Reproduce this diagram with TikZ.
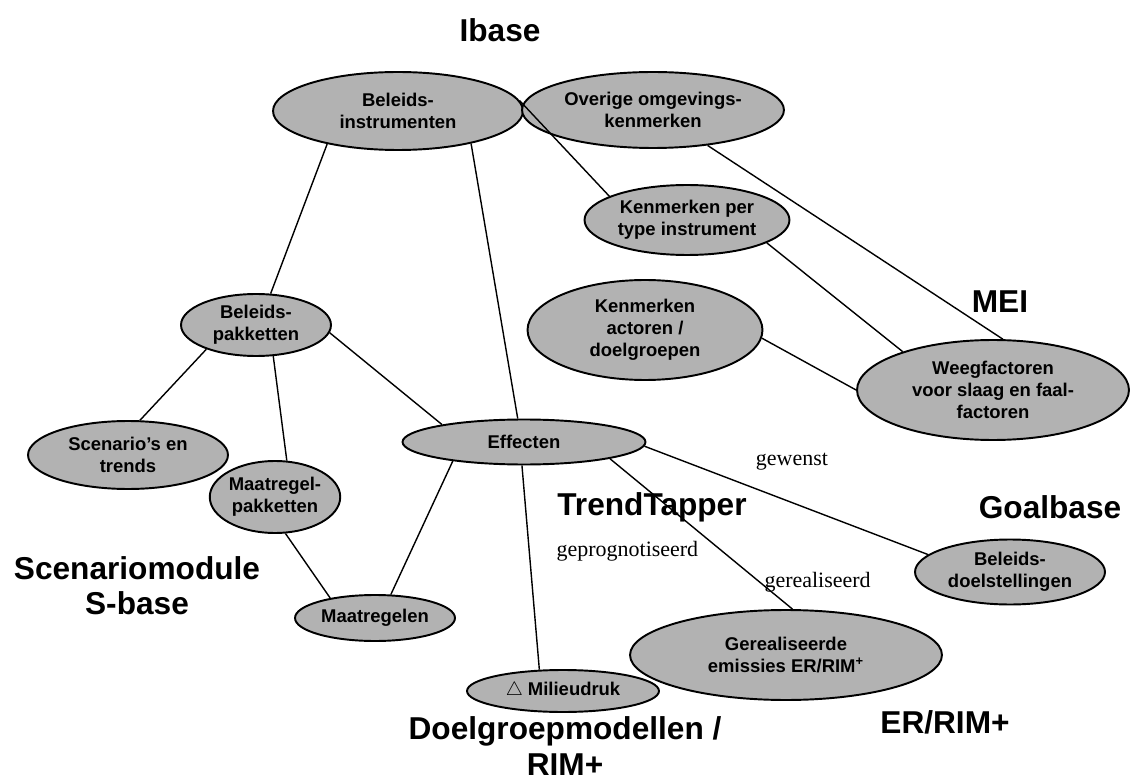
\documentclass[tikz,border=0pt]{standalone}
\usepackage{fontspec}
\setmainfont{Liberation Serif}
\setsansfont{Liberation Sans}
\usetikzlibrary{shapes.geometric}

\begin{document}
\begin{tikzpicture}[x=0.02cm, y=-0.02cm, line width=0.8pt,
        oval/.style={draw, ellipse, fill=black!30, line width=1.1pt, inner sep=0pt, align=center,
            font=\sffamily\bfseries\fontsize{10.5}{12.5}\selectfont},
        title/.style={align=center, font=\sffamily\bfseries\fontsize{18}{20}\selectfont},
        lbl/.style={font=\fontsize{12.5}{14}\selectfont, inner sep=1pt}]
    \useasboundingbox (0,0) rectangle (1139,780);

    % ovals
    \node[oval, minimum width=5cm, minimum height=1.56cm] (instr) at (398,111) {Beleids-\\instrumenten};
    \node[oval, minimum width=5.24cm, minimum height=1.52cm] (overig) at (653,110) {Overige omgevings-\\kenmerken};
    \node[oval, minimum width=4.1cm, minimum height=1.4cm] (kpt) at (687,220) {Kenmerken per\\type instrument};
    \node[oval, minimum width=4.7cm, minimum height=2cm] (kact) at (645,330) {Kenmerken\\actoren /\\doelgroepen};
    \node[oval, minimum width=5.44cm, minimum height=2cm] (weeg) at (993,390) {Weegfactoren\\voor slaag en faal-\\factoren};
    \node[oval, minimum width=3cm, minimum height=1.24cm] (pak) at (256,325) {Beleids-\\pakketten};
    \node[oval, minimum width=4cm, minimum height=1.36cm] (scen) at (128,455) {Scenario's en\\trends};
    \node[oval, minimum width=2.6cm, minimum height=1.44cm] (mpak) at (275,497) {Maatregel-\\pakketten};
    \node[oval, minimum width=4.86cm, minimum height=0.9cm] (eff) at (524,442) {Effecten};
    \node[oval, minimum width=3.2cm, minimum height=0.92cm] (maat) at (375,618) {Maatregelen};
    \node[oval, minimum width=3.8cm, minimum height=1.3cm] (doel) at (1010,572) {Beleids-\\doelstellingen};
    \node[oval, minimum width=6.24cm, minimum height=1.8cm] (emis) at (786,655) {Gerealiseerde\\emissies ER/RIM\textsuperscript{+}};
    \node[oval, minimum width=3.84cm, minimum height=0.84cm] (milieu) at (563,691) {$\triangle$ Milieudruk};

    % module names
    \node[title] (ibase) at (500,30) {Ibase};
    \node[title] (mei) at (1000,302) {MEI};
    \node[title] (tt) at (652,507) {TrendTapper};
    \node[title] (goal) at (1050,507) {Goalbase};
    \node[title] (sbase) at (137,586) {Scenariomodule\\S-base};
    \node[title] (rim) at (565,746) {Doelgroepmodellen /\\RIM+};
    \node[title] (er) at (945,722) {ER/RIM+};

    % links
    \draw (instr.-155) -- (pak.65);
    \draw (instr.-24) -- (eff.105);
    \draw (instr.5) -- (kpt.163);
    \draw (overig.-33) -- (weeg.79);
    \draw (kpt.-16) -- (weeg.157);
    \draw (kact.-4) -- (weeg.180);
    \draw (pak.-154) -- (scen.71);
    \draw (pak.-61) -- (mpak.72);
    \draw (pak.-6) -- (eff.168);
    \draw (mpak.-74) -- (maat.156);
    \draw (eff.-165) -- (maat.56);
    \draw (eff.-95) -- node[lbl, pos=0.42, right=0.5cm] (prog) {geprognotiseerd} (milieu.138);
    \draw (eff.-11) -- node[lbl, pos=0.82, right=0.05cm] (real) {gerealiseerd} (emis.82);
    \draw (eff.-2) -- node[lbl, pos=0.52, above=0.6cm] (gew) {gewenst} (doel.168);
\end{tikzpicture}
\end{document}
